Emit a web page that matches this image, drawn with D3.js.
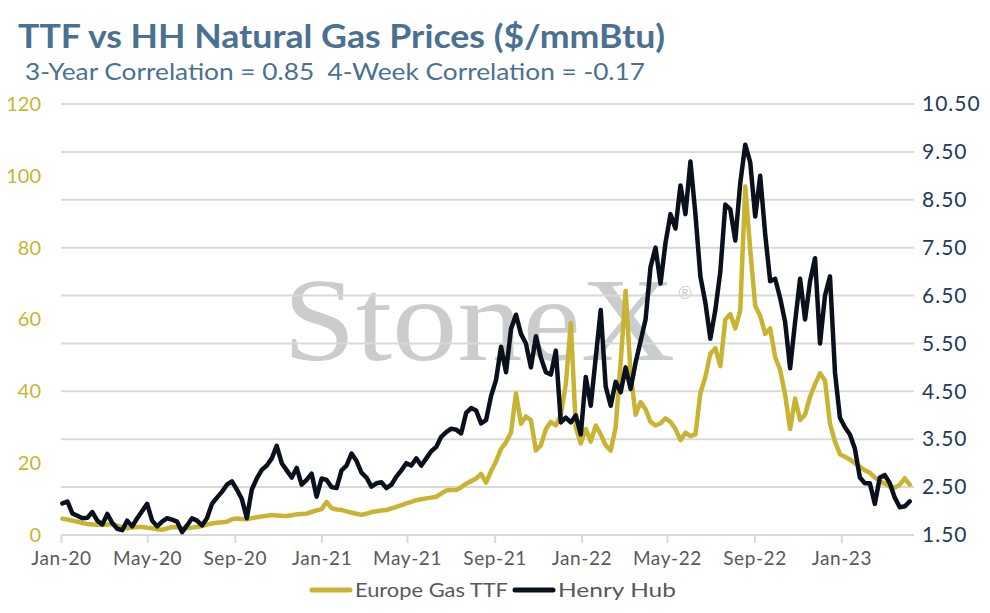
<!DOCTYPE html>
<html>
<head>
<meta charset="utf-8">
<script src="https://cdn.jsdelivr.net/npm/d3@7"></script>
<style>
  html, body { margin: 0; padding: 0; background: #ffffff; }
  svg { display: block; }
  text { font-family: Lato, "Open Sans", sans-serif; }
  text.wm { font-family: "Liberation Serif", "DejaVu Serif", serif; }
</style>
</head>
<body>
<svg id="chart" width="990" height="613"></svg>
<script>
// ---- data (weekly readings, first week ending 2020-01-03) ----
const firstWeek = "2020-01-03";
const hhValues = [
  2.16,2.20,1.95,1.90,1.85,1.86,1.98,1.80,1.72,1.94,
  1.75,1.63,1.60,1.80,1.68,1.85,2.00,2.15,1.80,1.68,
  1.78,1.85,1.82,1.78,1.56,1.70,1.85,1.80,1.70,1.85,
  2.15,2.28,2.40,2.55,2.62,2.45,2.25,1.85,2.45,2.68,
  2.86,2.95,3.10,3.36,3.00,2.85,2.70,2.90,2.55,2.65,
  2.78,2.30,2.68,2.65,2.50,2.48,2.85,2.95,3.20,3.05,
  2.80,2.70,2.51,2.58,2.60,2.48,2.55,2.72,2.85,3.00,
  2.95,3.10,2.95,3.10,3.25,3.34,3.55,3.65,3.72,3.70,
  3.62,4.05,4.15,4.10,3.83,3.90,4.40,4.74,5.43,4.90,
  5.80,6.10,5.70,5.50,5.00,5.65,5.20,4.90,4.85,5.35,
  3.85,3.95,3.85,4.00,3.60,4.80,4.20,5.20,6.20,4.60,
  4.20,4.70,4.48,5.00,4.55,5.10,5.55,6.00,7.10,7.50,
  6.75,7.60,8.20,7.90,8.80,8.20,9.30,8.20,6.90,6.35,
  5.60,6.20,7.00,8.40,8.30,7.65,8.85,9.65,9.28,8.15,
  9.00,7.78,6.80,6.85,6.45,5.95,4.98,5.95,6.85,6.00,
  6.80,7.28,5.50,6.50,6.90,4.90,3.95,3.75,3.60,3.30,
  2.70,2.58,2.58,2.15,2.70,2.75,2.58,2.28,2.08,2.10,
  2.20
];
const ttfValues = [
  4.55,4.30,4.00,3.70,3.30,3.05,2.95,2.82,2.80,2.95,
  3.05,2.60,2.10,1.86,2.05,2.25,2.20,2.00,1.90,1.60,
  1.45,1.80,2.25,2.15,1.95,1.86,2.05,2.25,2.50,2.90,
  3.20,3.40,3.55,3.71,4.40,4.60,4.45,4.36,4.70,4.95,
  5.15,5.35,5.55,5.45,5.35,5.29,5.50,5.75,5.85,5.95,
  6.40,6.85,7.20,9.20,7.50,7.10,7.00,6.60,6.20,5.90,
  5.60,5.90,6.40,6.60,6.80,6.96,7.40,7.85,8.30,8.80,
  9.20,9.70,9.95,10.20,10.40,10.65,11.50,12.40,12.50,12.50,
  13.30,14.30,15.00,15.70,17.00,14.60,17.80,20.50,24.00,25.80,
  28.50,39.40,31.00,33.00,32.00,23.50,25.00,29.50,31.50,30.50,
  33.50,42.00,59.00,30.00,25.50,29.50,26.00,30.50,28.00,25.00,
  23.50,30.00,48.00,68.00,45.00,33.50,37.00,35.00,31.50,30.50,
  31.10,32.50,31.50,29.50,26.40,28.50,27.50,28.00,39.50,44.00,
  50.50,52.00,47.00,60.00,61.50,57.50,62.50,97.00,79.50,63.80,
  61.00,56.00,57.50,49.50,46.00,39.00,29.50,38.00,32.00,33.50,
  38.50,42.00,45.00,43.00,31.00,26.00,22.50,21.80,21.00,20.00,
  19.00,18.00,17.30,16.00,15.00,14.30,13.50,13.20,14.00,15.80,
  14.00
];
const xTickDates = ["2020-01-01","2020-05-01","2020-09-01","2021-01-01","2021-05-01",
                    "2021-09-01","2022-01-01","2022-05-01","2022-09-01","2023-01-01"];
const leftTicks = [0,20,40,60,80,100,120];
const rightTicks = [1.5,2.5,3.5,4.5,5.5,6.5,7.5,8.5,9.5,10.5];
const seriesNames = ["Europe Gas TTF","Henry Hub"];
const titleText = "TTF vs HH Natural Gas Prices ($/mmBtu)";
const subtitleText = "3-Year Correlation = 0.85\u00A0\u00A04-Week Correlation = -0.17";

// ---- layout ----
const W = 990, H = 613;
const plot = {left: 61, right: 914, top: 104, bottom: 535};
const GOLD = "#c8b432", NAVY = "#0a101c";

const parseDate = d3.timeParse("%Y-%m-%d");
const start = parseDate(firstWeek);
const dates = hhValues.map((_, i) => d3.timeDay.offset(start, 7 * i));

const x = d3.scaleTime()
  .domain([parseDate("2020-01-01"), parseDate("2023-04-13")])
  .range([plot.left, plot.right]);
const yL = d3.scaleLinear().domain([0, 120]).range([plot.bottom, plot.top]);
const yR = d3.scaleLinear().domain([1.5, 10.5]).range([plot.bottom, plot.top]);

const svg = d3.select("#chart");

// title
svg.append("text").attr("x", 18).attr("y", 48)
  .attr("font-size", 32).attr("font-weight", 700).attr("fill", "#4a7191")
  .attr("textLength", 647).attr("lengthAdjust", "spacingAndGlyphs")
  .text(titleText);
svg.append("text").attr("x", 25).attr("y", 80)
  .attr("font-size", 23).attr("fill", "#4a7191")
  .attr("textLength", 620).attr("lengthAdjust", "spacingAndGlyphs")
  .text(subtitleText);

// watermark (behind gridlines)
svg.append("text").attr("class", "wm").attr("x", 283).attr("y", 360)
  .attr("font-size", 118).attr("fill", "#cbccce")
  .attr("textLength", 392).attr("lengthAdjust", "spacingAndGlyphs")
  .text("StoneX");
svg.append("text").attr("x", 685).attr("y", 299)
  .attr("text-anchor", "middle")
  .attr("font-size", 17).attr("fill", "#cbccce")
  .text("\u00AE");

// gridlines on right-axis ticks
svg.append("g").selectAll("line").data(rightTicks).join("line")
  .attr("x1", plot.left).attr("x2", plot.right)
  .attr("y1", d => yR(d)).attr("y2", d => yR(d))
  .attr("stroke", "#d9d9d9").attr("stroke-width", 2);

// x axis
const xAxis = d3.axisBottom(x)
  .tickValues(xTickDates.map(parseDate))
  .tickFormat(d3.timeFormat("%b-%y"))
  .tickSize(8).tickPadding(9);
const gx = svg.append("g").attr("transform", `translate(0,${plot.bottom})`).call(xAxis);
gx.select(".domain").remove();
gx.selectAll(".tick line").attr("stroke", "#d9d9d9").attr("stroke-width", 2);
gx.selectAll(".tick text").attr("font-size", 19).attr("fill", "#595959")
  .attr("letter-spacing", 0.6).attr("font-family", "Lato, sans-serif");

// left axis
const gl = svg.append("g").attr("transform", `translate(${plot.left - 20},0)`)
  .call(d3.axisLeft(yL).tickValues(leftTicks).tickSize(0).tickPadding(0));
gl.select(".domain").remove();
gl.selectAll(".tick text").attr("font-size", 20).attr("fill", GOLD)
  .attr("font-family", "Lato, sans-serif");

// right axis
const gr = svg.append("g").attr("transform", `translate(${plot.right + 8},0)`)
  .call(d3.axisRight(yR).tickValues(rightTicks).tickFormat(d3.format(".2f")).tickSize(0).tickPadding(0));
gr.select(".domain").remove();
gr.selectAll(".tick text").attr("font-size", 21).attr("fill", "#1f3a5c")
  .attr("letter-spacing", 1).attr("font-family", "Lato, sans-serif");

// lines
const ttfLine = d3.line().x((d, i) => x(dates[i])).y(d => yL(d));
const hhLine = d3.line().x((d, i) => x(dates[i])).y(d => yR(d));
svg.append("path").datum(ttfValues).attr("d", ttfLine)
  .attr("fill", "none").attr("stroke", GOLD).attr("stroke-width", 4.5)
  .attr("stroke-linejoin", "round").attr("stroke-linecap", "round");
svg.append("path").datum(hhValues).attr("d", hhLine)
  .attr("fill", "none").attr("stroke", NAVY).attr("stroke-width", 4.5)
  .attr("stroke-linejoin", "round").attr("stroke-linecap", "round");

// legend
const legend = svg.append("g").attr("transform", "translate(0,590)");
const legItems = [
  {name: seriesNames[0], color: GOLD, x: 312, w: 153},
  {name: seriesNames[1], color: NAVY, x: 515, w: 118}
];
legItems.forEach(it => {
  legend.append("line").attr("x1", it.x).attr("x2", it.x + 38)
    .attr("y1", 0).attr("y2", 0)
    .attr("stroke", it.color).attr("stroke-width", 5).attr("stroke-linecap", "round");
  legend.append("text").attr("x", it.x + 43).attr("y", 0).attr("dy", "0.35em")
    .attr("font-size", 20).attr("fill", "#595959")
    .attr("textLength", it.w).attr("lengthAdjust", "spacingAndGlyphs")
    .text(it.name);
});
</script>
</body>
</html>
